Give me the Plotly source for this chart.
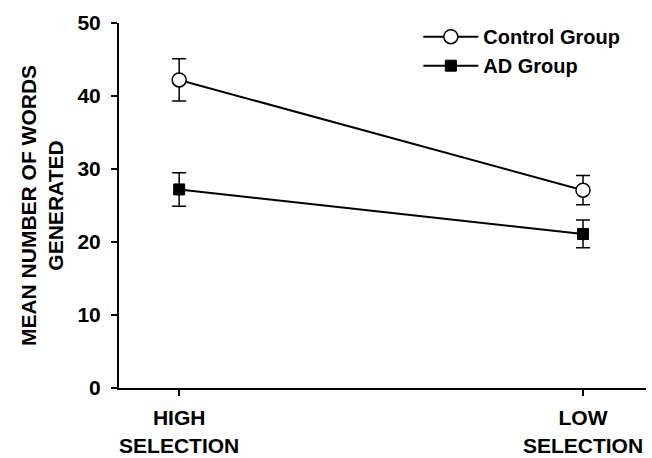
import plotly.graph_objects as go

# Selection condition on the x axis
conditions = ["HIGH<br>SELECTION", "LOW<br>SELECTION"]
positions = [0, 1]

# Mean number of words generated, with error-bar half-widths
control_mean = [42.2, 27.1]
control_err = [2.9, 2.0]
ad_mean = [27.2, 21.1]
ad_err = [2.3, 1.9]

FONT = "Liberation Sans, Arial, sans-serif"

fig = go.Figure()

fig.add_trace(go.Scatter(
    x=positions, y=control_mean, name="Control Group",
    mode="lines+markers",
    line=dict(color="black", width=2),
    marker=dict(symbol="circle", size=14, color="white",
                line=dict(color="black", width=1.5)),
    error_y=dict(type="data", array=control_err, visible=True,
                 color="black", thickness=1.5, width=7),
))

fig.add_trace(go.Scatter(
    x=positions, y=ad_mean, name="AD Group",
    mode="lines+markers",
    line=dict(color="black", width=2),
    marker=dict(symbol="square", size=11, color="black",
                line=dict(color="black", width=1)),
    error_y=dict(type="data", array=ad_err, visible=True,
                 color="black", thickness=1.5, width=7),
))

fig.update_layout(
    width=652, height=458,
    margin=dict(l=119, r=6, t=23, b=70),
    paper_bgcolor="white", plot_bgcolor="white",
    font=dict(family=FONT, color="black", size=20),
    showlegend=True,
    legend=dict(
        x=0.568, y=1.016, xanchor="left", yanchor="top",
        bgcolor="rgba(0,0,0,0)",
        font=dict(family=FONT, size=20, color="black", weight="bold"),
        itemwidth=55,
    ),
)

fig.update_xaxes(
    range=[-0.149, 1.156],
    tickvals=positions, ticktext=conditions,
    tickfont=dict(family=FONT, size=21, weight="bold"),
    ticks="outside", ticklen=6, tickwidth=2, tickcolor="black",
    ticklabelstandoff=4, automargin=False,
    showline=True, linecolor="black", linewidth=2,
    showgrid=False, zeroline=False,
)

fig.update_yaxes(
    range=[0, 50], tickvals=[0, 10, 20, 30, 40, 50],
    tickfont=dict(family=FONT, size=21, weight="bold"),
    ticks="outside", ticklen=6, tickwidth=2, tickcolor="black",
    ticklabelstandoff=6, automargin=False,
    showline=True, linecolor="black", linewidth=2,
    showgrid=False, zeroline=False,
    title=dict(text="MEAN NUMBER OF WORDS<br>GENERATED",
               font=dict(family=FONT, size=21, weight="bold"),
               standoff=8),
)

fig.write_html("out.html")
